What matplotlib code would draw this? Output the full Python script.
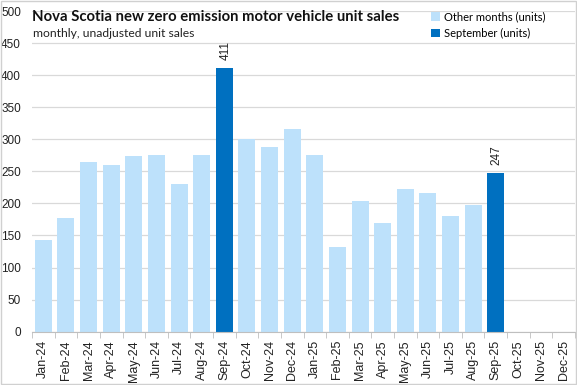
import matplotlib
matplotlib.use("Agg")
import matplotlib.pyplot as plt
import numpy as np

months = ["Jan-24", "Feb-24", "Mar-24", "Apr-24", "May-24", "Jun-24", "Jul-24", "Aug-24",
          "Sep-24", "Oct-24", "Nov-24", "Dec-24", "Jan-25", "Feb-25", "Mar-25", "Apr-25",
          "May-25", "Jun-25", "Jul-25", "Aug-25", "Sep-25", "Oct-25", "Nov-25", "Dec-25"]
other_months = [143, 178, 264, 260, 274, 276, 231, 276, None, 300, 288, 316, 276, 132,
                204, 170, 223, 217, 181, 197, None, None, None, None]
september = [None, None, None, None, None, None, None, None, 411, None, None, None,
             None, None, None, None, None, None, None, None, 247, None, None, None]
yticks = [0, 50, 100, 150, 200, 250, 300, 350, 400, 450, 500]

LIGHT = "#BDE1FB"
DARK = "#0070C0"

fig = plt.figure(figsize=(5.77, 3.85), dpi=100)
ax = fig.add_axes([0.0555, 0.1385, 0.941, 0.8329])

x = np.arange(len(months))
ov = np.array([np.nan if v is None else v for v in other_months], dtype=float)
sv = np.array([np.nan if v is None else v for v in september], dtype=float)
ax.bar(x, np.nan_to_num(ov), width=0.75, color=LIGHT, label="Other months (units)", zorder=2)
ax.bar(x, np.nan_to_num(sv), width=0.75, color=DARK, label="September (units)", zorder=2)
for xi, v in zip(x, sv):
    if not np.isnan(v):
        ax.text(xi + 0.05, v + 13, f"{int(v)}", rotation=90, ha="center", va="bottom",
                fontsize=8.5, family="Liberation Sans", color="#222222")

ax.set_xlim(-0.5, len(months) - 0.5)
ax.set_ylim(0, 500)
ax.set_yticks(yticks)
ax.set_yticklabels([str(t) for t in yticks], family="Liberation Sans", fontsize=8.5, color="#222222")
ax.set_xticks(x)
ax.set_xticklabels(months, rotation=90, family="Liberation Sans", fontsize=9, color="#222222")
ax.tick_params(axis="x", length=0, pad=6)
ax.set_xticks(np.arange(-0.5, len(months)), minor=True)
ax.tick_params(axis="x", which="minor", length=4, color="#BFBFBF")
ax.tick_params(axis="y", length=0, pad=8)
ax.grid(axis="y", color="#D9D9D9", linewidth=0.9, zorder=0)
for s in ["top", "right", "left"]:
    ax.spines[s].set_visible(False)
ax.spines["bottom"].set_color("#BFBFBF")

fig.text(0.0555, 0.955, "Nova Scotia new zero emission motor vehicle unit sales",
         fontsize=10.7, fontweight="bold", family="Lato", va="center", ha="left", color="#111111")
fig.text(0.058, 0.913, "monthly, unadjusted unit sales", fontsize=8.7, family="Lato",
         va="center", ha="left", color="#222222")

leg = ax.legend(loc="upper left", bbox_to_anchor=(0.717, 1.03), frameon=False,
                prop={"family": "Lato", "size": 8}, handlelength=0.8, handleheight=0.8,
                handletextpad=0.3, labelspacing=0.5)

border = plt.Rectangle((0.002, 0.003), 0.996, 0.994, transform=fig.transFigure,
                       fill=False, edgecolor="#D0D0D0", linewidth=1)
fig.add_artist(border)

fig.savefig("out.png", dpi=100, facecolor="white")
